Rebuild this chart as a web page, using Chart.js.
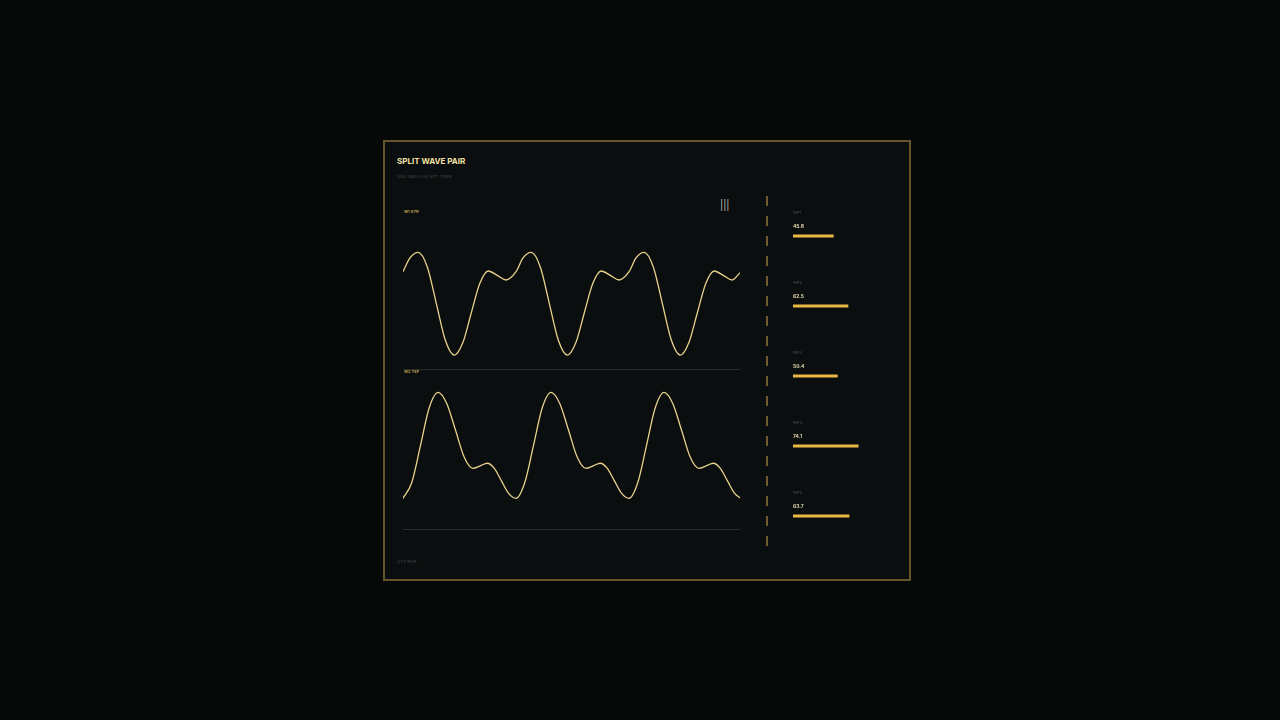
<!DOCTYPE html>
<html>
<head>
<meta charset="utf-8">
<script src="https://cdn.jsdelivr.net/npm/chart.js@4.4.1/dist/chart.umd.min.js"></script>
<style>
  html, body { margin: 0; padding: 0; }
  body { width: 1280px; height: 720px; background: #070909; position: relative; overflow: hidden; font-family: "Inter", "Roboto", sans-serif; }
  .card { position: absolute; left: 383px; top: 140px; width: 528px; height: 441px; box-sizing: border-box; border: 2px solid #66552a; background: #0a0e0f; }
  .txt { position: absolute; white-space: nowrap; }
  #title { left: 397px; top: 155px; font-size: 8px; line-height: 12px; font-weight: 700; color: #f4e2a0; }
  #sub { left: 397px; top: 174px; font-size: 4px; line-height: 6px; color: #4a5050; letter-spacing: 0.2px; }
  #labA { left: 404px; top: 209px; font-size: 4px; line-height: 6px; font-weight: 600; color: #c9a756; }
  #labB { left: 404px; top: 369px; font-size: 4px; line-height: 6px; font-weight: 600; color: #c9a756; }
  #foot { left: 397px; top: 558.5px; font-size: 4px; line-height: 6px; color: #4a5050; letter-spacing: 0.2px; }
  #icon { left: 720px; top: 198.5px; font-size: 10px; line-height: 12px; color: #e6e0dc; font-weight: 300; }
  .dash { position: absolute; left: 766px; top: 196px; width: 1.5px; height: 350px; background: repeating-linear-gradient(to bottom, #6e5c2c 0 10px, transparent 10px 20px); }
  canvas { position: absolute; }
</style>
</head>
<body>
<div class="card"></div>
<div class="txt" id="title">SPLIT WAVE PAIR</div>
<div class="txt" id="sub">VOO 384 FLUX APT TURN</div>
<div class="txt" id="labA">W1 STR</div>
<div class="txt" id="labB">W2 TEF</div>
<div class="txt" id="foot">CTX PAIR</div>
<div class="txt" id="icon">|||</div>
<div class="dash"></div>

<canvas id="waveTop" width="337" height="148" style="left:403px;top:222px;"></canvas>
<canvas id="waveBottom" width="337" height="148" style="left:403px;top:382px;"></canvas>
<canvas id="sideBars" width="88" height="350" style="left:793px;top:201px;"></canvas>

<script>
// wave 1 (time in s, level 0-100)
const waveATime = [0, 0.062, 0.135, 0.215, 0.295, 0.374, 0.454, 0.529, 0.604, 0.680, 0.755, 0.834, 0.912,
  1.000, 1.062, 1.135, 1.215, 1.295, 1.374, 1.454, 1.529, 1.604, 1.680, 1.755, 1.834, 1.912,
  2.000, 2.062, 2.135, 2.215, 2.295, 2.374, 2.454, 2.529, 2.604, 2.680, 2.755, 2.834, 2.912, 2.982];
const waveAValue = [66.4, 75.7, 79.5, 69.6, 44.9, 20.3, 10.1, 18.4, 38.5, 58.6, 66.9, 63.9, 60.8,
  66.4, 75.7, 79.5, 69.6, 44.9, 20.3, 10.1, 18.4, 38.5, 58.6, 66.9, 63.9, 60.8,
  66.4, 75.7, 79.5, 69.6, 44.9, 20.3, 10.1, 18.4, 38.5, 58.6, 66.9, 63.9, 60.8, 65.8];

// wave 2
const waveBTime = [0, 0.077, 0.155, 0.232, 0.310, 0.387, 0.465, 0.542, 0.619, 0.683, 0.746, 0.808, 0.871, 0.933,
  1.000, 1.077, 1.155, 1.232, 1.310, 1.387, 1.465, 1.542, 1.619, 1.683, 1.746, 1.808, 1.871, 1.933,
  2.000, 2.077, 2.155, 2.232, 2.310, 2.387, 2.465, 2.542, 2.619, 2.683, 2.746, 2.808, 2.871, 2.933, 2.982];
const waveBValue = [21.4, 31.9, 57.2, 82.6, 93.0, 85.5, 67.4, 49.2, 41.7, 43.4, 45.1, 41.6, 33.2, 24.9,
  21.4, 31.9, 57.2, 82.6, 93.0, 85.5, 67.4, 49.2, 41.7, 43.4, 45.1, 41.6, 33.2, 24.9,
  21.4, 31.9, 57.2, 82.6, 93.0, 85.5, 67.4, 49.2, 41.7, 43.4, 45.1, 41.6, 33.2, 24.9, 21.6];

// side readouts
const sideLabels = ["WP1", "WP2", "WP3", "WP4", "WP5"];
const sideValues = [45.8, 62.5, 50.4, 74.1, 63.7];

const timeMax = 2.982;

const baseline = {
  id: "baseline",
  beforeDatasetsDraw(chart) {
    const { ctx, chartArea } = chart;
    ctx.save();
    ctx.strokeStyle = "#262a2a";
    ctx.lineWidth = 1;
    ctx.beginPath();
    ctx.moveTo(chartArea.left, chartArea.bottom - 0.5);
    ctx.lineTo(chartArea.right, chartArea.bottom - 0.5);
    ctx.stroke();
    ctx.restore();
  }
};

function waveChart(id, times, values) {
  const points = times.map((t, i) => ({ x: t, y: values[i] }));
  return new Chart(document.getElementById(id), {
    type: "line",
    data: {
      datasets: [
        {
          data: points,
          borderColor: "#e8d28b",
          borderWidth: 1.3,
          pointRadius: 0,
          cubicInterpolationMode: "monotone",
          fill: false,
          clip: false,
        },
      ],
    },
    options: {
      responsive: false,
      animation: false,
      layout: { padding: 0 },
      plugins: { legend: { display: false }, tooltip: { enabled: false } },
      scales: {
        x: { type: "linear", min: 0, max: timeMax, display: false },
        y: { min: 0, max: 100, display: false },
      },
    },
    plugins: [baseline],
  });
}

waveChart("waveTop", waveATime, waveAValue);
waveChart("waveBottom", waveBTime, waveBValue);

const barText = {
  id: "barText",
  afterDatasetsDraw(chart) {
    const { ctx } = chart;
    const bars = chart.getDatasetMeta(0).data;
    ctx.save();
    ctx.textBaseline = "middle";
    ctx.textAlign = "left";
    bars.forEach((bar, i) => {
      const left = chart.scales.x.getPixelForValue(0);
      ctx.fillStyle = "#4d5353";
      ctx.font = "4px Inter";
      ctx.fillText(sideLabels[i], left, bar.y - 23.5);
      ctx.fillStyle = "#efe2b4";
      ctx.font = "600 5px Inter";
      ctx.fillText(sideValues[i].toFixed(1), left, bar.y - 9.5);
    });
    ctx.restore();
  }
};

new Chart(document.getElementById("sideBars"), {
  type: "bar",
  data: {
    labels: sideLabels,
    datasets: [
      {
        data: sideValues,
        backgroundColor: "#ebb744",
        barThickness: 2.2,
        borderWidth: 0,
      },
    ],
  },
  options: {
    indexAxis: "y",
    responsive: false,
    animation: false,
    layout: { padding: 0 },
    plugins: { legend: { display: false }, tooltip: { enabled: false } },
    scales: {
      x: { min: 0, max: 100, display: false },
      y: { display: false },
    },
  },
  plugins: [barText],
});
</script>
</body>
</html>
